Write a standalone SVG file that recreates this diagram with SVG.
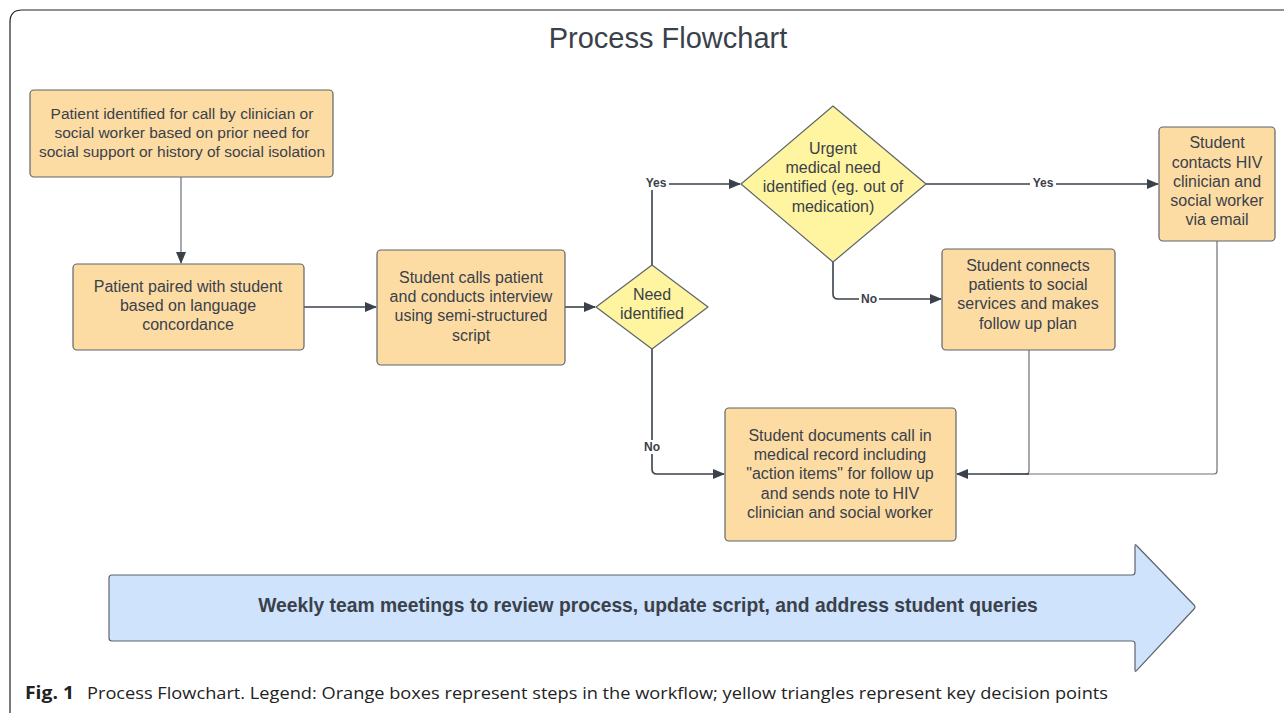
<svg xmlns="http://www.w3.org/2000/svg" width="1284" height="713" viewBox="0 0 1284 713">
<defs>
<marker id="ah" markerWidth="12" markerHeight="10" refX="11" refY="5" orient="auto" markerUnits="userSpaceOnUse">
<path d="M0,0 L12,5 L0,10 Z" fill="#3a414a"/>
</marker>
<style>
.box{fill:#fddca4;stroke:#5f646b;stroke-width:1.2}
.dia{fill:#fff4a0;stroke:#5f646b;stroke-width:1.2}
.t{font-family:"Liberation Sans",Arial,sans-serif;font-size:16px;fill:#3a414a;text-anchor:middle}
.lbl{font-family:"Liberation Sans",Arial,sans-serif;font-size:12px;font-weight:bold;fill:#3a414a;text-anchor:middle}
.c{fill:none;stroke:#3a414a;stroke-width:1.6}
.c2{fill:none;stroke:#6b7079;stroke-width:1.2}
</style>
</defs>
<rect width="1284" height="713" fill="#ffffff"/>
<path d="M10,713 L10,22 Q10,10 22,10 L1290,10" fill="none" stroke="#222" stroke-width="1.2"/>
<text x="668" y="48" font-family="Liberation Sans,Arial,sans-serif" font-size="29" fill="#3a414a" text-anchor="middle">Process Flowchart</text>

<g id="connectors">
<line class="c2" x1="181" y1="177" x2="181" y2="263" marker-end="url(#ah)"/>
<line class="c" x1="304" y1="307" x2="376" y2="307" marker-end="url(#ah)"/>
<line class="c" x1="565" y1="307" x2="595" y2="307" marker-end="url(#ah)"/>
<path class="c" d="M652,265 L652,184 L740,184" marker-end="url(#ah)"/>
<path class="c" d="M926,184 L1158,184" marker-end="url(#ah)"/>
<path class="c" d="M833,262 L833,294 Q833,299 838,299 L941,299" marker-end="url(#ah)"/>
<path class="c" d="M652,349 L652,469 Q652,474 657,474 L724,474" marker-end="url(#ah)"/>
<path class="c2" d="M1029,350 L1029,471 Q1029,474 1026,474"/>
<path class="c2" d="M1217,241 L1217,471 Q1217,474 1214,474 L1000,474"/>
<path class="c" d="M1029,474 L957,474" marker-end="url(#ah)"/>
<rect x="643" y="176" width="26" height="14" fill="#fff"/>
<text class="lbl" x="656" y="187">Yes</text>
<rect x="1030" y="176" width="26" height="14" fill="#fff"/>
<text class="lbl" x="1043" y="187">Yes</text>
<rect x="859" y="292" width="20" height="14" fill="#fff"/>
<text class="lbl" x="869" y="303">No</text>
<rect x="642" y="440" width="20" height="14" fill="#fff"/>
<text class="lbl" x="652" y="451">No</text>
</g>

<g id="n1">
<rect class="box" x="30" y="90" width="303" height="87" rx="4"/>
<text class="t" x="182" y="119" style="font-size:15.5px">Patient identified for call by clinician or</text>
<text class="t" x="182" y="138" style="font-size:15.5px">social worker based on prior need for</text>
<text class="t" x="182" y="157" style="font-size:15.5px">social support or history of social isolation</text>
</g>
<g id="n2">
<rect class="box" x="73" y="264" width="231" height="86" rx="4"/>
<text class="t" x="188" y="292">Patient paired with student</text>
<text class="t" x="188" y="311">based on language</text>
<text class="t" x="188" y="330">concordance</text>
</g>
<g id="n3">
<rect class="box" x="377" y="250" width="188" height="115" rx="4"/>
<text class="t" x="471" y="283">Student calls patient</text>
<text class="t" x="471" y="302">and conducts interview</text>
<text class="t" x="471" y="321">using semi-structured</text>
<text class="t" x="471" y="341">script</text>
</g>
<g id="n4">
<path class="dia" d="M652,265 L708,307 L652,349 L596,307 Z" stroke-linejoin="round"/>
<text class="t" x="652" y="300">Need</text>
<text class="t" x="652" y="319">identified</text>
</g>
<g id="n5">
<path class="dia" d="M833,106 L926,184 L833,262 L741,184 Z" stroke-linejoin="round"/>
<text class="t" x="833" y="154">Urgent</text>
<text class="t" x="833" y="173">medical need</text>
<text class="t" x="833" y="192">identified (eg. out of</text>
<text class="t" x="833" y="212">medication)</text>
</g>
<g id="n6">
<rect class="box" x="1159" y="127" width="116" height="114" rx="4"/>
<text class="t" x="1217" y="148">Student</text>
<text class="t" x="1217" y="168">contacts HIV</text>
<text class="t" x="1217" y="187">clinician and</text>
<text class="t" x="1217" y="206">social worker</text>
<text class="t" x="1217" y="225">via email</text>
</g>
<g id="n7">
<rect class="box" x="942" y="249" width="173" height="101" rx="4"/>
<text class="t" x="1028" y="271">Student connects</text>
<text class="t" x="1028" y="290">patients to social</text>
<text class="t" x="1028" y="309">services and makes</text>
<text class="t" x="1028" y="329">follow up plan</text>
</g>
<g id="n8">
<rect class="box" x="725" y="408" width="231" height="133" rx="4"/>
<text class="t" x="840" y="441">Student documents call in</text>
<text class="t" x="840" y="460">medical record including</text>
<text class="t" x="840" y="479">"action items" for follow up</text>
<text class="t" x="840" y="499">and sends note to HIV</text>
<text class="t" x="840" y="518">clinician and social worker</text>
</g>
<g id="banner">
<path d="M112,575 L1132,575 Q1135,575 1135,572 L1135,546 Q1135,543 1137,546 L1194,605 Q1196,607 1194,609 L1137,670 Q1135,673 1135,670 L1135,644 Q1135,641 1132,641 L112,641 Q109,641 109,638 L109,578 Q109,575 112,575 Z" fill="#cfe3fc" stroke="#5f646b" stroke-width="1.2"/>
<text x="648" y="612" font-family="Liberation Sans,Arial,sans-serif" font-size="19.3" font-weight="bold" fill="#3a414a" text-anchor="middle">Weekly team meetings to review process, update script, and address student queries</text>
</g>
<text x="25" y="699" font-family="Open Sans,Liberation Sans,sans-serif" font-size="17" fill="#222"><tspan font-weight="bold" textLength="49" lengthAdjust="spacingAndGlyphs">Fig. 1</tspan><tspan x="87" textLength="1021" lengthAdjust="spacingAndGlyphs">Process Flowchart. Legend: Orange boxes represent steps in the workflow; yellow triangles represent key decision points</tspan></text>
</svg>
